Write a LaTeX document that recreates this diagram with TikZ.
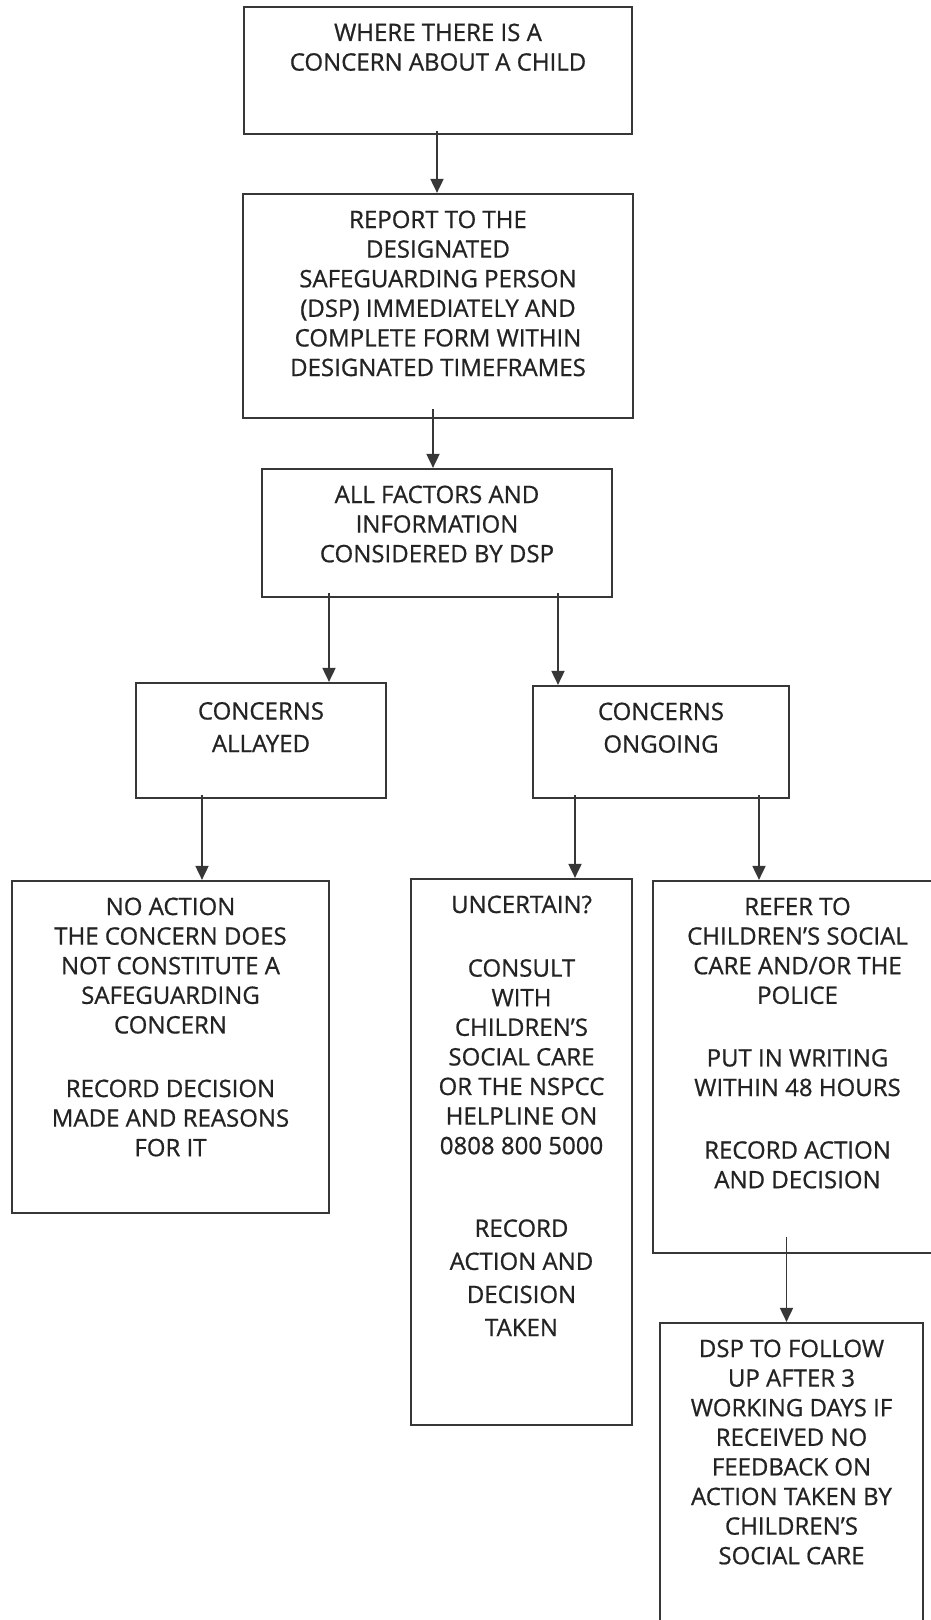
\documentclass[tikz,border=0pt]{standalone}
\usepackage{fontspec}
\setmainfont{Open Sans}
\newfontfamily\boxfont{Open Sans}[FakeBold=0.8]
\usetikzlibrary{arrows.meta}
\definecolor{linegray}{RGB}{55,55,55}
\definecolor{textgray}{RGB}{35,35,35}

\begin{document}
\begin{tikzpicture}[x=1pt,y=-1pt,
    box/.style={draw=linegray, line width=2.2pt, inner sep=0pt},
    txt/.style={anchor=north, align=center, inner sep=0pt, text=textgray,
                font=\boxfont\fontsize{24}{29.6}\selectfont},
    arr/.style={draw=linegray, line width=1.8pt, -{Triangle[length=14pt,width=13pt]}}]
        \useasboundingbox (0,0) rectangle (931,1620);
        % boxes
        \node[box, minimum width=388pt, minimum height=127pt] (concern)   at (438,70.5)   {};
        \node[box, minimum width=390pt, minimum height=224pt] (report)    at (438,306)    {};
        \node[box, minimum width=350pt, minimum height=128pt] (factors)   at (437,533)    {};
        \node[box, minimum width=250pt, minimum height=115pt] (allayed)   at (261,740.5)  {};
        \node[box, minimum width=256pt, minimum height=112pt] (ongoing)   at (661,742)    {};
        \node[box, minimum width=317pt, minimum height=332pt] (noaction)  at (170.5,1047) {};
        \node[box, minimum width=221pt, minimum height=546pt] (uncertain) at (521.5,1152) {};
        \node[box, minimum width=289pt, minimum height=372pt] (refer)     at (797.5,1067) {};
        \node[box, minimum width=263pt, minimum height=307pt] (followup)  at (791.5,1476.5) {};
        % texts
        \node[txt] (concern-t) at ([yshift=-17.5pt]concern.north) {WHERE THERE IS A\\CONCERN ABOUT A CHILD};
        \node[txt] (report-t) at ([yshift=-17.5pt]report.north) {REPORT TO THE\\DESIGNATED\\SAFEGUARDING PERSON\\(DSP) IMMEDIATELY AND\\COMPLETE FORM WITHIN\\DESIGNATED TIMEFRAMES};
        \node[txt] (factors-t) at ([yshift=-17.5pt]factors.north) {ALL FACTORS AND\\INFORMATION\\CONSIDERED BY DSP};
        \node[txt] (allayed-t) at ([yshift=-20pt]allayed.north) {CONCERNS\\[3pt]ALLAYED};
        \node[txt] (ongoing-t) at ([yshift=-17.5pt]ongoing.north) {CONCERNS\\[3pt]ONGOING};
        \node[txt] (noaction-t) at ([yshift=-17.5pt]noaction.north) {NO ACTION\\THE CONCERN DOES\\NOT CONSTITUTE A\\SAFEGUARDING\\CONCERN\\[34pt]RECORD DECISION\\MADE AND REASONS\\FOR IT};
        \node[txt] (uncertain-t) at ([yshift=-17.5pt]uncertain.north) {UNCERTAIN?\\[34pt]CONSULT\\WITH\\CHILDREN’S\\SOCIAL CARE\\OR THE NSPCC\\HELPLINE ON\\0808 800 5000\\[53pt]RECORD\\[3.5pt]ACTION AND\\[3.5pt]DECISION\\[3.5pt]TAKEN};
        \node[txt] (refer-t) at ([yshift=-17.5pt]refer.north) {REFER TO\\CHILDREN’S SOCIAL\\CARE AND/OR THE\\POLICE\\[33pt]PUT IN WRITING\\WITHIN 48 HOURS\\[33pt]RECORD ACTION\\AND DECISION};
        \node[txt] (followup-t) at ([yshift=-17.5pt]followup.north) {DSP TO FOLLOW\\UP AFTER 3\\WORKING DAYS IF\\RECEIVED NO\\FEEDBACK ON\\ACTION TAKEN BY\\CHILDREN’S\\SOCIAL CARE};
        % arrows
        \draw[arr] ([xshift=-1pt,yshift=4pt]concern.south) coordinate (a1) -- (a1 |- report.north);
        \draw[arr] ([xshift=-5pt,yshift=10pt]report.south) coordinate (a2) -- (a2 |- factors.north);
        \draw[arr] ([xshift=-108pt,yshift=5pt]factors.south) coordinate (a3) -- (a3 |- allayed.north);
        \draw[arr] ([xshift=121pt,yshift=5pt]factors.south) coordinate (a4) -- (a4 |- ongoing.north);
        \draw[arr] ([xshift=-59pt,yshift=4pt]allayed.south) coordinate (a5) -- (a5 |- noaction.north);
        \draw[arr] ([xshift=-86pt,yshift=4pt]ongoing.south) coordinate (a6) -- (a6 |- uncertain.north);
        \draw[arr] ([xshift=98pt,yshift=4pt]ongoing.south) coordinate (a7) -- (a7 |- refer.north);
        \draw[arr] ([xshift=-11pt,yshift=17pt]refer.south) coordinate (a8) -- (a8 |- followup.north);
\end{tikzpicture}
\end{document}
